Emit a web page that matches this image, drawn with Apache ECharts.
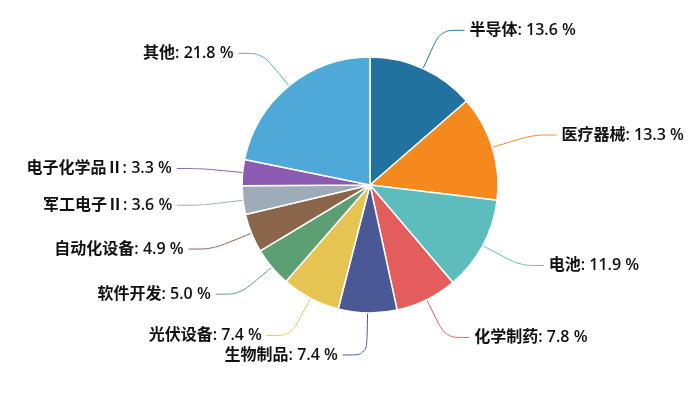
<!DOCTYPE html>
<html>
<head>
<meta charset="utf-8">
<script src="https://cdn.jsdelivr.net/npm/echarts@6/dist/echarts.min.js"></script>
<style>
  html, body { margin: 0; padding: 0; background: #fff; }
  #main { width: 700px; height: 406px; }
</style>
</head>
<body>
<div id="main"></div>
<script>
// 行业占比
const names = ['半导体', '医疗器械', '电池', '化学制药', '生物制品', '光伏设备', '软件开发', '自动化设备', '军工电子Ⅱ', '电子化学品Ⅱ', '其他'];
const values = [13.6, 13.3, 11.9, 7.8, 7.4, 7.4, 5.0, 4.9, 3.6, 3.3, 21.8];
const colors = ['#21729e', '#f5891e', '#5dbdbd', '#e35d5d', '#4a5896', '#e6c451', '#5b9f72', '#8b6549', '#9eabb8', '#8a5bb0', '#4ea9d9'];

const chart = echarts.init(document.getElementById('main'));

chart.setOption({
  color: colors,
  animation: false,
  series: [{
    type: 'pie',
    center: [370, 185],
    radius: 128,
    startAngle: 90,
    clockwise: true,
    data: names.map((n, i) => ({ name: n, value: values[i] })),
    itemStyle: { borderColor: '#fff', borderWidth: 1.5 },
    label: {
      formatter: p => p.name + ': ' + p.value.toFixed(1) + ' %',
      color: '#111',
      fontSize: 16,
      fontWeight: 600,
      fontFamily: '"Open Sans", "Noto Sans CJK SC"'
    },
    labelLine: {
      length: 42,
      length2: 24,
      smooth: true,
      lineStyle: { width: 1 }
    }
  }]
});
</script>
</body>
</html>
